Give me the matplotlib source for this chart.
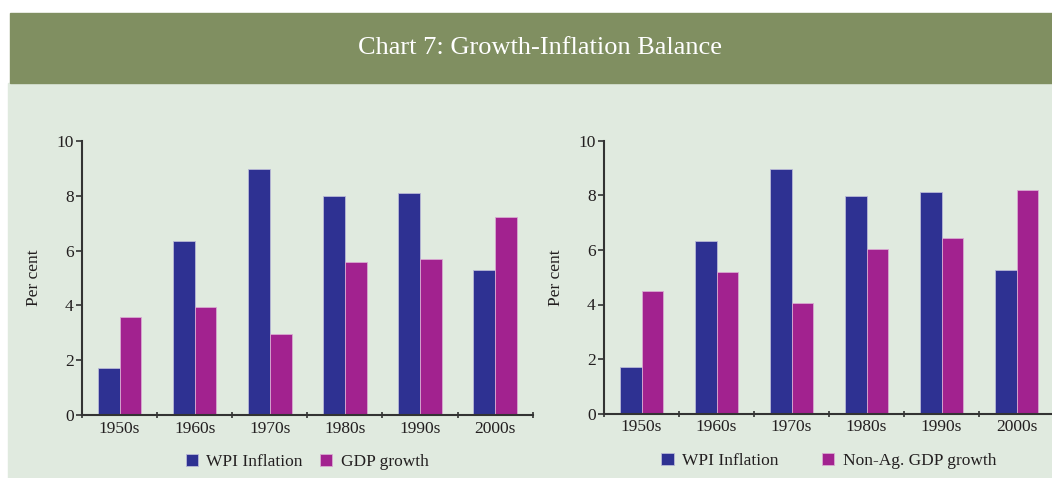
import numpy as np
import matplotlib
matplotlib.use('Agg')
import matplotlib.pyplot as plt
from matplotlib.patches import Rectangle

# data
decades = ['1950s', '1960s', '1970s', '1980s', '1990s', '2000s']
wpi_inflation = [1.72, 6.34, 8.98, 7.98, 8.11, 5.28]
gdp_growth = [3.58, 3.93, 2.94, 5.58, 5.68, 7.24]
nonag_gdp_growth = [4.50, 5.20, 4.04, 6.03, 6.44, 8.18]
yticks = [0, 2, 4, 6, 8, 10]

blue = '#2E3192'
magenta = '#A2228F'
bg = '#E0EADF'
band = '#808F61'
txt = '#231F20'

plt.rcParams['font.family'] = ['Liberation Serif', 'DejaVu Serif']
plt.rcParams['text.color'] = txt

fig = plt.figure(figsize=(10.52, 4.78), dpi=100, facecolor='white')
W, H = 1052, 478

# panel backgrounds
fig.patches.append(Rectangle((8 / W, 0), 1, 1 - 83 / H, transform=fig.transFigure,
                             color=bg, zorder=-2))
fig.patches.append(Rectangle((10 / W, 1 - 83 / H), 1, 70 / H, transform=fig.transFigure,
                             color=band, zorder=-2))
fig.text(540 / W, 1 - 48 / H, 'Chart 7: Growth-Inflation Balance', color='white',
         fontsize=19, ha='center', va='center')


def draw_panel(rect, second, label2, colspace):
    ax = fig.add_axes(rect)
    ax.set_facecolor('none')
    x = np.arange(len(decades))
    w = 0.29
    ax.bar(x - w / 2, wpi_inflation, w, color=blue, edgecolor='#B9B9D6', linewidth=0.6,
           label='WPI Inflation', zorder=2)
    ax.bar(x + w / 2, second, w, color=magenta, edgecolor='#D9A9D1', linewidth=0.6,
           label=label2, zorder=2)
    ax.set_xlim(-0.5, 5.5)
    ax.set_ylim(0, 10)
    ax.set_yticks(yticks)
    ax.set_xticks(x)
    ax.set_xticklabels(decades)
    ax.set_xticks(np.arange(-0.5, 6.0, 1.0), minor=True)
    ax.tick_params(axis='x', which='major', length=0, pad=4, labelsize=12.5, labelcolor=txt)
    ax.tick_params(axis='x', which='minor', length=4, width=1.2, direction='inout', color='#333333')
    ax.tick_params(axis='y', length=4, width=1.2, color='#333333', labelsize=12.5, labelcolor=txt, pad=2)
    for s in ['top', 'right']:
        ax.spines[s].set_visible(False)
    for s in ['left', 'bottom']:
        ax.spines[s].set_color('#333333')
        ax.spines[s].set_linewidth(1.5)
    ax.set_ylabel('Per cent', fontsize=12.5, color=txt)
    # label about 40 px left of the y axis
    ax.yaxis.set_label_coords(-40 / (rect[2] * W), 0.5)
    ax.legend(loc='center', bbox_to_anchor=(0.5, -0.172), ncol=2, frameon=False,
              fontsize=12.5, handlelength=0.7, handleheight=0.7, handletextpad=0.5,
              columnspacing=colspace)
    return ax


draw_panel([82 / W, 63 / H, 450.7 / W, 274 / H], gdp_growth, 'GDP growth', 1.0)
draw_panel([604 / W, 64.3 / H, 450 / W, 273 / H], nonag_gdp_growth, 'Non-Ag. GDP growth', 2.5)

fig.savefig('out.png', dpi=100, facecolor='white')
